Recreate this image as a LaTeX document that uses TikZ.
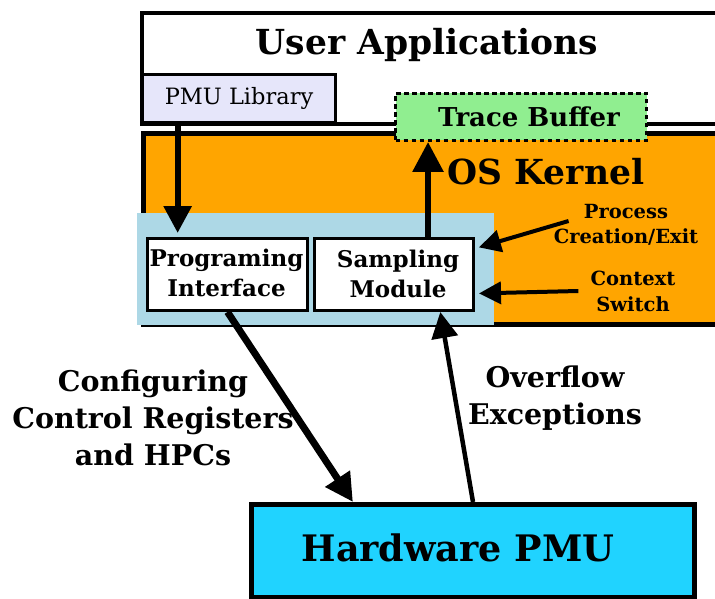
\documentclass[tikz,border=0pt]{standalone}
\usepackage{fontspec}
\setmainfont{DejaVu Serif}
\usetikzlibrary{arrows.meta,calc}
\definecolor{libfill}{HTML}{E6E6FA}
\definecolor{tracefill}{HTML}{90EE90}
\definecolor{kernfill}{HTML}{FFA500}
\definecolor{modfill}{HTML}{ADD8E6}
\definecolor{hwfill}{HTML}{20D3FF}
\tikzset{
  box/.style={draw=black, rectangle, inner sep=0pt, anchor=north west},
  modbox/.style={box, fill=white, line width=3pt, minimum width=160pt, minimum height=72pt},
  lbl/.style={font=\bfseries, align=center, inner sep=0pt},
  modtext/.style={lbl, font=\bfseries\fontsize{23}{30}\selectfont},
  arr/.style={draw=black, -{Triangle[width=#1, length=#1]}},
  arr/.default=26pt
}
\begin{document}
\begin{tikzpicture}[x=1pt, y=-1pt]
\useasboundingbox (0,0) rectangle (715,599);
\begin{scope}
\clip (0,0) rectangle (715,599);
% user space
\node[box, line width=4pt, fill=white, minimum width=600pt, minimum height=111pt] (user) at (140,11) {};
\node[lbl, font=\bfseries\fontsize{34.5}{40}\selectfont] (usert) at (427,45) {User Applications};
\node[box, line width=3pt, fill=libfill, minimum width=193pt, minimum height=48pt,
      font=\fontsize{22.5}{26}\selectfont] (lib) at (141,73) {PMU Library};
% kernel space
\node[box, line width=5pt, fill=kernfill, minimum width=600pt, minimum height=191pt] (kern) at (141,131) {};
\fill[modfill] (137,213) rectangle (494,325);
\node[box, dashed, dash pattern=on 4.5pt off 3.5pt, line width=3pt, fill=tracefill, minimum width=251pt, minimum height=47pt] (trace) at (394,92) {};
\node[lbl, font=\bfseries\fontsize{26}{30}\selectfont] (tracet) at ($(trace.center)+(8,0)$) {Trace Buffer};
\node[lbl, font=\bfseries\fontsize{34.5}{40}\selectfont] (kernt) at (546,172) {OS Kernel};
\node[modbox] (prog) at (146,237) {};
\node[modtext] (progt) at ($(prog.center)+(-1,-2)$) {Programing\\Interface};
\node[modbox, minimum width=159pt] (samp) at (313,237) {};
\node[modtext] (sampt) at ($(samp.center)+(4,-1)$) {Sampling\\Module};
\node[lbl, font=\bfseries\fontsize{19.5}{25}\selectfont] (proc) at (626,225) {Process\\Creation/Exit};
\node[lbl, font=\bfseries\fontsize{19.5}{26}\selectfont] (ctx) at (633,291) {Context\\Switch};
% hardware
\node[box, line width=5pt, fill=hwfill, minimum width=443pt, minimum height=93pt] (hw) at (249,502) {};
\node[lbl, font=\bfseries\fontsize{36.5}{42}\selectfont] (hwt) at (458,548) {Hardware PMU};
\node[lbl, font=\bfseries\fontsize{28.5}{37}\selectfont] (cfg) at (153,418) {Configuring\\Control Registers\\and HPCs};
\node[lbl, font=\bfseries\fontsize{28.5}{37}\selectfont] (ovf) at (555,398) {Overflow\\Exceptions};
% connectors
\coordinate (libout) at ($(lib.south west)!0.187!(lib.south east)$);
\draw[arr=27pt, line width=6pt, shorten >=4pt] (libout) -- (libout |- prog.north);
\coordinate (sampup) at ($(samp.north west)!0.71!(samp.north east)$);
\draw[arr=30pt, line width=6pt] (sampup) -- (sampup |- trace.south);
\draw[arr=22pt, line width=4pt, shorten >=4pt] ($(proc.west)+(15,-4)$) -- ($(samp.east)+(0,-26)$);
\draw[arr=22pt, line width=4pt, shorten >=4pt] ($(ctx.west)+(-12,0)$) -- ($(samp.east)+(0,19)$);
\draw[arr=28pt, line width=7pt] (prog.south) -- ($(hw.north west)!0.232!(hw.north east)$);
\draw[arr=26pt, line width=4.5pt] (hw.north) -- ($(samp.south west)!0.786!(samp.south east)$);
\end{scope}
\end{tikzpicture}
\end{document}
